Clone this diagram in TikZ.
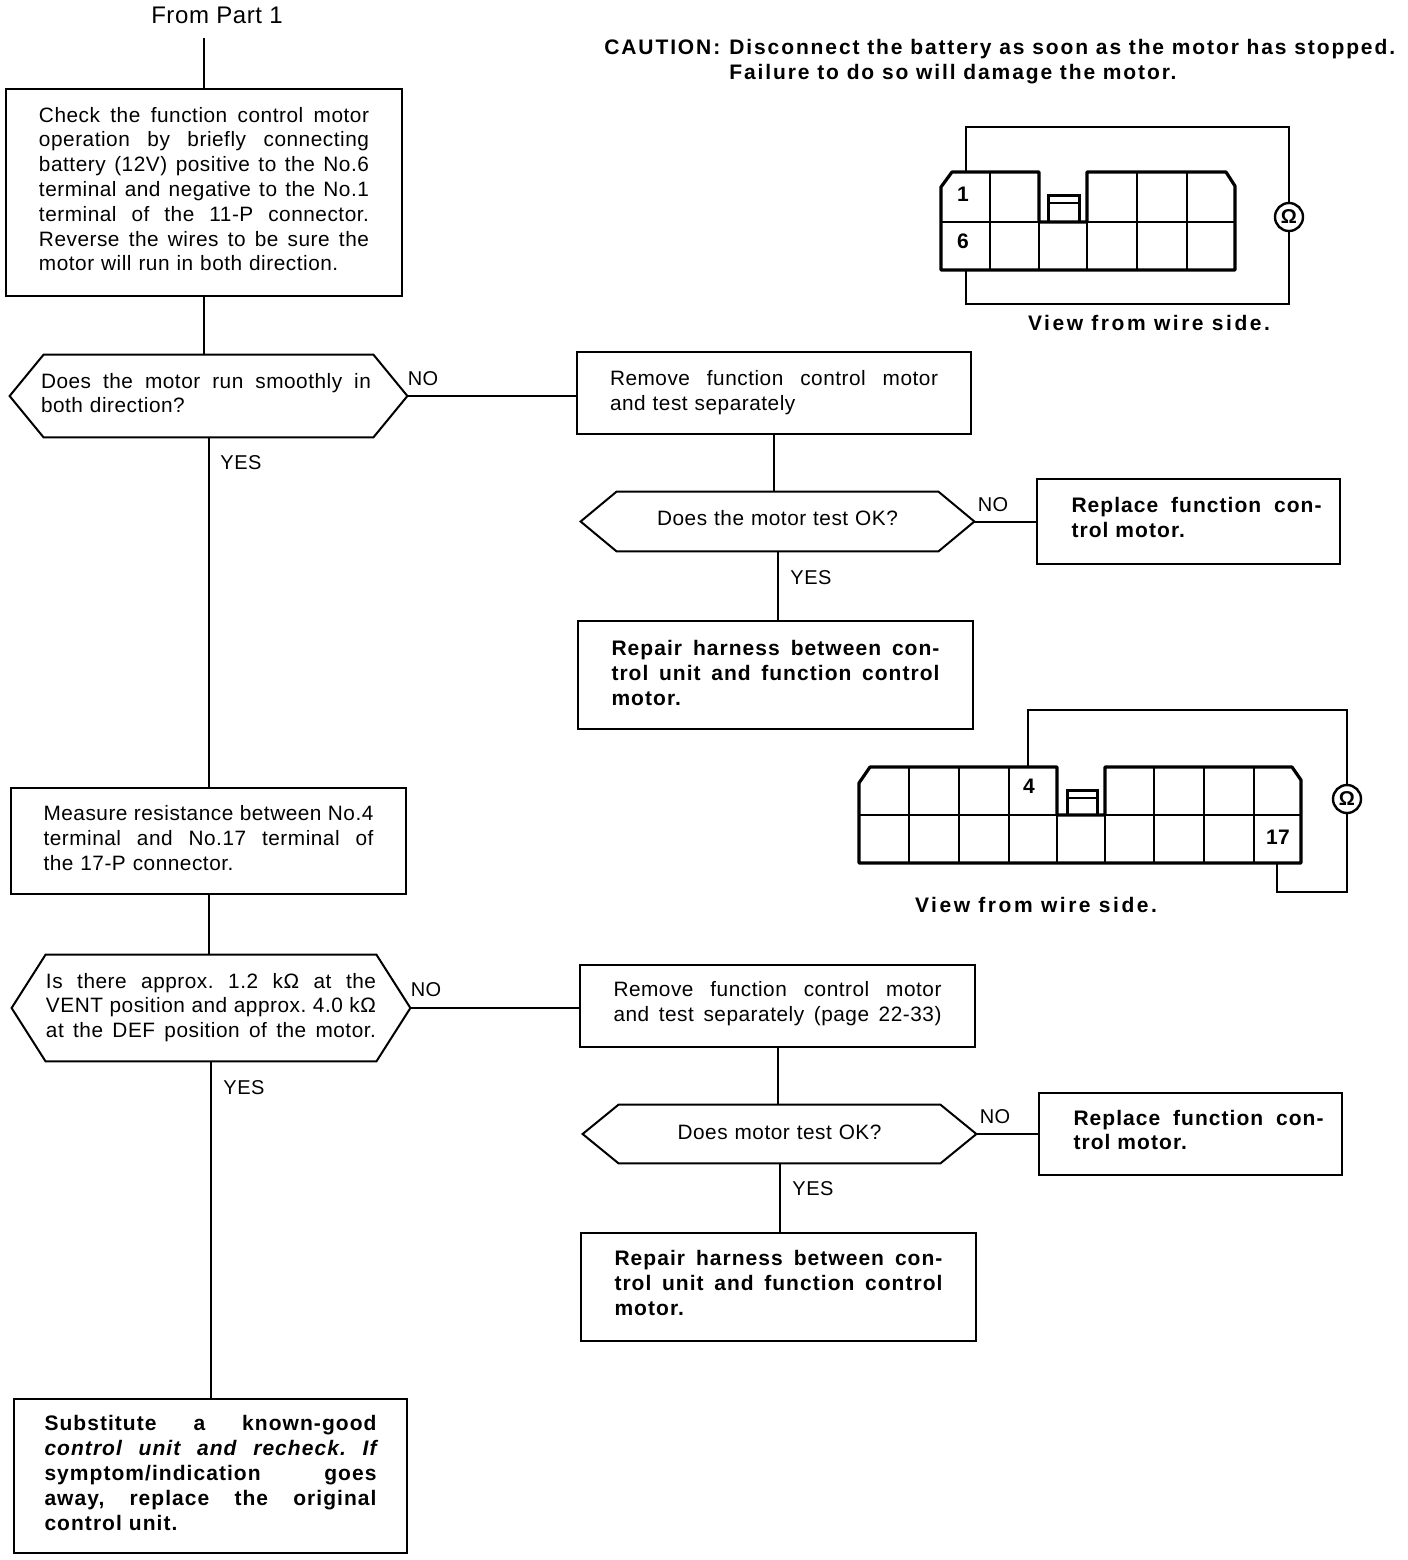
\documentclass[tikz,border=0pt]{standalone}
\usepackage{fontspec}
\setmainfont[LetterSpace=2.5]{Liberation Sans}
\newfontfamily\strongfont[LetterSpace=5]{Liberation Sans}
\newfontfamily\cautionfont[LetterSpace=9]{Liberation Sans}
\newfontfamily\viewfont[LetterSpace=12]{Liberation Sans}
\usepackage{tikz}
\newcommand{\fl}[2][\hsize]{\makebox[#1][s]{\frenchspacing\spaceskip=0pt\xspaceskip=0pt\relax #2}}
\newcommand{\tailkern}[1]{\par\kern#1\relax}
\newcommand{\hexq}[2]{\draw[wire] (#1.west) -- ([xshift=#2]#1.north west) -- ([xshift=-#2]#1.north east) -- (#1.east) -- ([xshift=-#2]#1.south east) -- ([xshift=#2]#1.south west) -- cycle;}

\begin{document}
\begin{tikzpicture}[
  x=0.5pt, y=-0.5pt,
  font=\fontsize{10.4}{12.4}\selectfont,
  wire/.style={line width=1pt},
  shell/.style={line width=1.6pt, line join=round},
  cell/.style={line width=1.1pt},
  latch/.style={line width=1.5pt},
  stepbox/.style={draw, line width=1pt, inner sep=0pt, align=left},
  ask/.style={inner sep=0pt, align=left},
  lift/.style={execute at end node={\tailkern{#1}}},
  tag/.style={inner sep=0pt, font=\fontsize{10}{12}\selectfont},
  strong/.style={font=\fontsize{10.5}{12.4}\selectfont\strongfont\bfseries},
  warn/.style={inner sep=0pt, font=\fontsize{10.5}{12.4}\selectfont\cautionfont\bfseries},
  view/.style={inner sep=0pt, font=\fontsize{10.5}{12.4}\selectfont\viewfont\bfseries},
  pin/.style={inner sep=0pt, font=\fontsize{10.5}{12.4}\selectfont\bfseries},
  meter/.style={draw, circle, line width=1.2pt, minimum size=14pt, inner sep=0pt, font=\fontsize{10}{10}\selectfont\bfseries},
]
\useasboundingbox (0,0) rectangle (1408,1560);

% ---------- left column ----------
\node[tag, font=\fontsize{12}{14}\selectfont] (from) at (217,15) {From Part 1};
\coordinate (fromend) at (204,38);

\node[stepbox, lift=3.5pt, minimum width=198pt, minimum height=103.5pt, text width=165pt] (check) at (204,192.5) {%
  \fl{Check the function control motor}\\
  \fl{operation by briefly connecting}\\
  \fl{battery (12V) positive to the No.6}\\
  \fl{terminal and negative to the No.1}\\
  \fl{terminal of the 11-P connector.}\\
  \fl{Reverse the wires to be sure the}\\
  motor will run in both direction.};

\node[ask, lift=3pt, minimum width=198.5pt, minimum height=41pt, text width=167.5pt] (smooth) at (208.5,396) {%
  \fl[165pt]{Does the motor run smoothly in}\\
  both direction?};
\hexq{smooth}{17pt}

\node[stepbox, lift=3pt, minimum width=197.5pt, minimum height=53pt, text width=165pt] (measure) at (208.5,841) {%
  \fl{Measure resistance between No.4}\\
  \fl{terminal and No.17 terminal of}\\
  the 17-P connector.};

\node[ask, lift=0.5pt, minimum width=199pt, minimum height=53pt, text width=165pt] (approx) at (211,1008) {%
  \fl{Is there approx. 1.2 kΩ at the}\\
  \fl{VENT position and approx. 4.0 kΩ}\\
  \fl{at the DEF position of the motor.}};
\hexq{approx}{17pt}

\node[stepbox, strong, lift=3pt, minimum width=196.5pt, minimum height=77pt, text width=166pt] (substitute) at (210.5,1476) {%
  \fl{Substitute a known-good}\\
  \fl{\itshape control unit and recheck. If}\\
  \fl{symptom/indication goes}\\
  \fl{away, replace the original}\\
  control unit.};

% ---------- upper branch ----------
\node[stepbox, minimum width=197pt, minimum height=41pt, text width=164pt] (removeA) at (774,393) {%
  \fl{Remove function control motor}\\
  and test separately};

\node[ask, lift=3pt, minimum width=196.5pt, minimum height=29.5pt, text width=130pt, align=center] (testA) at (777.5,521.5) {Does the motor test OK?};
\hexq{testA}{18pt}

\node[stepbox, strong, lift=4pt, minimum width=151.5pt, minimum height=42.5pt, text width=133pt] (replaceA) at (1188.5,521.5) {%
  \hspace*{8pt}\fl[125pt]{Replace function con-}\\
  \hspace*{8pt}trol motor.};

\node[stepbox, strong, lift=2pt, minimum width=197.5pt, minimum height=54pt, text width=164pt] (repairA) at (775.5,675) {%
  \fl{Repair harness between con-}\\
  \fl{trol unit and function control}\\
  motor.};

% ---------- lower branch ----------
\node[stepbox, lift=2pt, minimum width=197.5pt, minimum height=41pt, text width=164pt] (removeB) at (777.5,1006) {%
  \fl{Remove function control motor}\\
  \fl{and test separately (page 22-33)}};

\node[ask, lift=2pt, minimum width=196.5pt, minimum height=29pt, text width=130pt, align=center] (testB) at (779.5,1134) {Does motor test OK?};
\hexq{testB}{18pt}

\node[stepbox, strong, lift=4pt, minimum width=151.5pt, minimum height=41pt, text width=133pt] (replaceB) at (1190.5,1134) {%
  \hspace*{8pt}\fl[125pt]{Replace function con-}\\
  \hspace*{8pt}trol motor.};

\node[stepbox, strong, lift=4pt, minimum width=197.5pt, minimum height=54pt, text width=164pt] (repairB) at (778.5,1287) {%
  \fl{Repair harness between con-}\\
  \fl{trol unit and function control}\\
  motor.};

% ---------- connectors ----------
\draw[wire] (fromend) -- (fromend |- check.north);
\draw[wire] (check.south) -- (check.south |- smooth.north);
\draw[wire] (smooth.south) -- (measure.north);
\draw[wire] (measure.south) -- (measure.south |- approx.north);
\draw[wire] (approx.south) -- (approx.south |- substitute.north);
\draw[wire] (smooth.east) -- (smooth.east -| removeA.west);
\draw[wire] (removeA.south) -- (removeA.south |- testA.north);
\draw[wire] (testA.east) -- (replaceA.west);
\draw[wire] (testA.south) -- (testA.south |- repairA.north);
\draw[wire] (approx.east) -- (approx.east -| removeB.west);
\draw[wire] (removeB.south) -- (removeB.south |- testB.north);
\draw[wire] (testB.east) -- (replaceB.west);
\draw[wire] (testB.south) -- (testB.south |- repairB.north);

% NO / YES
\node[tag] (noA) at (423,379) {NO};
\node[tag] (yesA) at (241,463) {YES};
\node[tag] (noB) at (993,505) {NO};
\node[tag] (yesB) at (811,578) {YES};
\node[tag] (noC) at (426,990) {NO};
\node[tag] (yesC) at (244,1088) {YES};
\node[tag] (noD) at (995,1117) {NO};
\node[tag] (yesD) at (813,1189) {YES};

% ---------- caution ----------
\node[warn, anchor=base west] (caution) at (604,54) {CAUTION:};
\node[warn, anchor=base west] (cautionA) at (729,54) {Disconnect the battery as soon as the motor has stopped.};
\node[warn, anchor=base west] (cautionB) at (729,79) {Failure to do so will damage the motor.};

% ---------- 11-P connector ----------
\draw[shell] (941,187) -- (952,172) -- (1039,172) -- (1039,222) -- (1087,222) -- (1087,172)
  -- (1226,172) -- (1235,186) -- (1235,270) -- (941,270) -- cycle;
\draw[cell] (941,222) -- (1235,222);
\foreach \x in {990,1137,1187}
  \draw[cell] (\x,172) -- (\x,270);
\foreach \x in {1039,1087}
  \draw[cell] (\x,222) -- (\x,270);
\draw[latch] (1048,222) -- (1048,195) -- (1079,195) -- (1079,222);
\draw[wire] (1048,203) -- (1079,203);
\node[pin] (pinA) at (963,194) {1};
\node[pin] (pinB) at (963,241) {6};
\node[meter] (ohmA) at (1289,217) {Ω};
\coordinate (wireA) at (966,172);
\coordinate (wireB) at (966,270);
\draw[wire] (wireA) -- (966,127) -- (ohmA.north |- 0,127) -- (ohmA.north);
\draw[wire] (wireB) -- (966,304) -- (ohmA.south |- 0,304) -- (ohmA.south);
\node[view] (viewA) at (1149,323) {View from wire side.};

% ---------- 17-P connector ----------
\draw[shell] (859,783) -- (870,767) -- (1057,767) -- (1057,815) -- (1105,815) -- (1105,767)
  -- (1292,767) -- (1301,780) -- (1301,863) -- (859,863) -- cycle;
\draw[cell] (859,815) -- (1301,815);
\foreach \x in {909,959,1009,1154,1204,1254}
  \draw[cell] (\x,767) -- (\x,863);
\foreach \x in {1057,1105}
  \draw[cell] (\x,815) -- (\x,863);
\draw[latch] (1067,815) -- (1067,790) -- (1097,790) -- (1097,815);
\draw[wire] (1067,798) -- (1097,798);
\node[pin] (pinC) at (1029,786) {4};
\node[pin] (pinD) at (1278,837) {17};
\node[meter] (ohmB) at (1347,799) {Ω};
\coordinate (wireC) at (1028,767);
\coordinate (wireD) at (1277,863);
\draw[wire] (wireC) -- (1028,710) -- (ohmB.north |- 0,710) -- (ohmB.north);
\draw[wire] (wireD) -- (1277,892) -- (ohmB.south |- 0,892) -- (ohmB.south);
\node[view] (viewB) at (1036,905) {View from wire side.};

\end{tikzpicture}
\end{document}
